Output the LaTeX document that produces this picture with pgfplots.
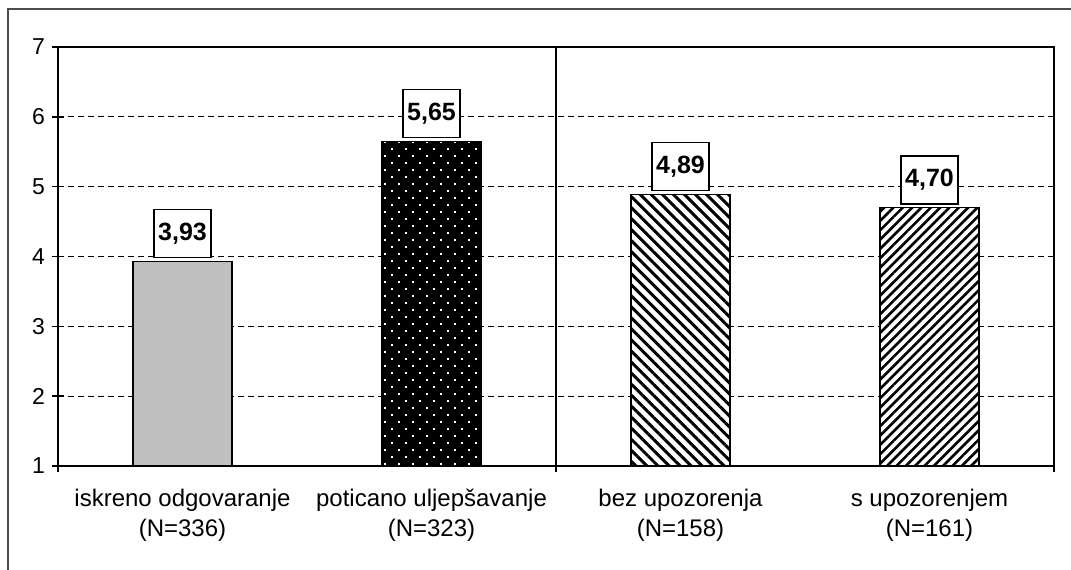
\documentclass[border=0pt]{standalone}
\usepackage{fontspec}
\setmainfont{Liberation Sans}
\usepackage{pgfplots}
\pgfplotsset{compat=1.18}
\usetikzlibrary{patterns.meta}
\definecolor{barGray}{RGB}{192,192,192}
\begin{document}
\begin{tikzpicture}[x=1pt,y=1pt]
\useasboundingbox (0,0) rectangle (535.5,284.5);
\draw[line width=1.2pt, color=black!70] (4,-10) -- (4,280) -- (545,280);
\begin{axis}[
  at={(29pt,51.5pt)}, anchor=south west,
  width=498pt, height=209.5pt, scale only axis,
  xmin=0, xmax=4, ymin=1, ymax=7,
  xtick={0,2,4}, xticklabels={},
  ytick={1,2,3,4,5,6,7},
  xtick pos=bottom, ytick pos=left,
  tick align=center, major tick length=6pt,
  tick style={black, line width=0.8pt},
  ymajorgrids,
  grid style={black, line width=0.5pt, dash pattern=on 3pt off 2pt},
  axis line style={black, line width=0.8pt},
  /pgf/number format/assume math mode=true,
  yticklabel style={font=\fontsize{11.5}{13}\selectfont},
  clip mode=individual,
]
\addplot[ybar, bar shift=0pt, bar width=49.5pt, draw=black, line width=0.6pt, fill=barGray]
  coordinates {(0.5,3.93)};
\addplot[ybar, bar shift=0pt, bar width=49.5pt, draw=black, line width=0.6pt, fill=black,
  postaction={pattern={Dots[angle=45,distance=4.95pt,radius=0.55pt]}, pattern color=white}]
  coordinates {(1.5,5.65)};
\addplot[ybar, bar shift=0pt, bar width=49.5pt, draw=black, line width=0.6pt, fill=white,
  postaction={pattern={Lines[angle=-45,distance=3.9pt,line width=1.5pt]}, pattern color=black}]
  coordinates {(2.5,4.89)};
\addplot[ybar, bar shift=0pt, bar width=49.5pt, draw=black, line width=0.6pt, fill=white,
  postaction={pattern={Lines[angle=45,distance=3.3pt,line width=1.3pt]}, pattern color=black}]
  coordinates {(3.5,4.70)};
\draw[black, line width=0.8pt] (axis cs:2,1) -- (axis cs:2,7);
\tikzset{vlab/.style={draw=black, line width=0.6pt, fill=white, anchor=south, minimum width=28.5pt, minimum height=24pt, inner sep=0pt, yshift=1.5pt, font=\bfseries\fontsize{12.5}{14}\selectfont}}
\node[vlab] at (axis cs:0.5,3.93) {3,93};
\node[vlab] at (axis cs:1.5,5.65) {5,65};
\node[vlab] at (axis cs:2.5,4.89) {4,89};
\node[vlab] at (axis cs:3.5,4.70) {4,70};
\tikzset{clab/.style={align=center, yshift=-24.5pt, font=\fontsize{12}{15}\selectfont}}
\node[clab] at (axis cs:0.5,1) {iskreno odgovaranje\\(N=336)};
\node[clab] at (axis cs:1.5,1) {poticano uljepšavanje\\(N=323)};
\node[clab] at (axis cs:2.5,1) {bez upozorenja\\(N=158)};
\node[clab] at (axis cs:3.5,1) {s upozorenjem\\(N=161)};
\end{axis}
\end{tikzpicture}
\end{document}
